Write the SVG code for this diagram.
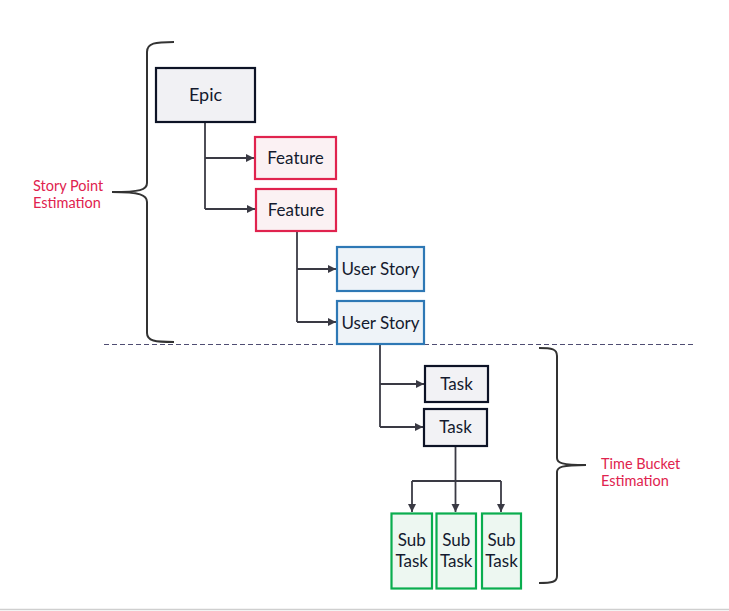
<svg xmlns="http://www.w3.org/2000/svg" width="729" height="611" viewBox="0 0 729 611">
<style>
.box{stroke-width:2.2}
.t{font-family:Lato,"Noto Sans",sans-serif;font-size:17px;fill:#141a2e;text-anchor:middle}
.lbl{font-family:Lato,"Noto Sans",sans-serif;font-size:14.5px;fill:#e0234e}
.c{fill:none;stroke:#3a3a44;stroke-width:1.8}
.br{fill:none;stroke:#333;stroke-width:2}
</style>
<defs>
<marker id="ah" viewBox="0 0 10 10" refX="10" refY="5" markerWidth="4.5" markerHeight="4.5" orient="auto" markerUnits="strokeWidth">
<path d="M0,0 L10,5 L0,10 z" fill="#3a3a44"/>
</marker>
</defs>
<rect width="729" height="611" fill="#fff"/>
<line x1="0" y1="609.5" x2="729" y2="609.5" stroke="#cfcfcf" stroke-width="1.5"/>
<line x1="104" y1="344.5" x2="694" y2="344.5" stroke="#4f4d72" stroke-width="1" stroke-dasharray="5,3"/>
<g id="braces">
<path class="br" d="M174,42 C155,42 147,43 147,52 L147,183 C147,190 140,192 112,192 C140,192 147,195 147,202 L147,333 C147,341 155,342 174,342"/>
<path class="br" d="M539,348 C552,348 557,349 557,356 L557,458 C557,463 562,465 586,465 C562,465 557,467 557,472 L557,576 C557,582 552,583 539,583"/>
</g>
<g id="labels">
<text class="lbl" x="33" y="191">Story Point</text>
<text class="lbl" x="33" y="208">Estimation</text>
<text class="lbl" x="601" y="469">Time Bucket</text>
<text class="lbl" x="601" y="486">Estimation</text>
</g>
<g id="connectors">
<path class="c" d="M205,122 V209"/>
<path class="c" d="M205,158 H254" marker-end="url(#ah)"/>
<path class="c" d="M205,209 H255" marker-end="url(#ah)"/>
<path class="c" d="M297,231 V322"/>
<path class="c" d="M297,269 H336" marker-end="url(#ah)"/>
<path class="c" d="M297,322 H336" marker-end="url(#ah)"/>
<path class="c" d="M380,344 V427"/>
<path class="c" d="M380,384 H424" marker-end="url(#ah)"/>
<path class="c" d="M380,427 H423" marker-end="url(#ah)"/>
<path class="c" d="M455.5,446 V512" marker-end="url(#ah)"/>
<path class="c" d="M412,481 H501"/>
<path class="c" d="M412,481 V512" marker-end="url(#ah)"/>
<path class="c" d="M501,481 V512" marker-end="url(#ah)"/>
</g>
<g id="epic">
<rect class="box" x="156" y="68" width="99" height="54" fill="#f1f1f4" stroke="#0d1326" stroke-width="2.5"/>
<text class="t" x="205.5" y="101" style="font-size:18px">Epic</text>
</g>
<g id="feature1">
<rect class="box" x="255" y="137" width="81" height="42" fill="#fbf1f3" stroke="#e0234e"/>
<text class="t" x="295.5" y="164">Feature</text>
</g>
<g id="feature2">
<rect class="box" x="256" y="189" width="80" height="42" fill="#fbf1f3" stroke="#e0234e"/>
<text class="t" x="296" y="216">Feature</text>
</g>
<g id="userstory1">
<rect class="box" x="337" y="247" width="87" height="44" fill="#eef3f8" stroke="#2e78b5"/>
<text class="t" x="380.5" y="275">User Story</text>
</g>
<g id="userstory2">
<rect class="box" x="337" y="301" width="87" height="43" fill="#eef3f8" stroke="#2e78b5"/>
<text class="t" x="380.5" y="329">User Story</text>
</g>
<g id="task1">
<rect class="box" x="425" y="366" width="63" height="36" fill="#f2f2f5" stroke="#0d1326" stroke-width="2.5"/>
<text class="t" x="456.5" y="390">Task</text>
</g>
<g id="task2">
<rect class="box" x="424" y="409" width="63" height="37" fill="#f2f2f5" stroke="#0d1326" stroke-width="2.5"/>
<text class="t" x="455.5" y="433">Task</text>
</g>
<g id="subtask1">
<rect class="box" x="391.5" y="513.5" width="40.5" height="75" fill="#edf7f1" stroke="#0aad4f"/>
<text class="t" x="411.7" y="546">Sub</text>
<text class="t" x="411.7" y="567">Task</text>
</g>
<g id="subtask2">
<rect class="box" x="436.5" y="513.5" width="39.5" height="75" fill="#edf7f1" stroke="#0aad4f"/>
<text class="t" x="456.2" y="546">Sub</text>
<text class="t" x="456.2" y="567">Task</text>
</g>
<g id="subtask3">
<rect class="box" x="482" y="513.5" width="39" height="75" fill="#edf7f1" stroke="#0aad4f"/>
<text class="t" x="501.5" y="546">Sub</text>
<text class="t" x="501.5" y="567">Task</text>
</g>
</svg>
